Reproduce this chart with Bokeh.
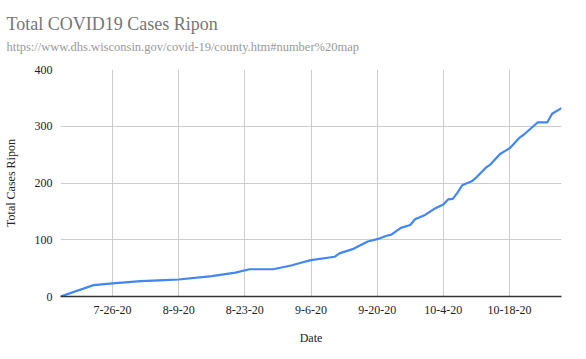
import pandas as pd
from bokeh.plotting import figure
from bokeh.models import Title, FixedTicker, Range1d
from bokeh.embed import file_html
from bokeh.resources import INLINE

dates = ["2020-07-15", "2020-07-22", "2020-07-26", "2020-08-01", "2020-08-06",
         "2020-08-09", "2020-08-16", "2020-08-21", "2020-08-24", "2020-08-29",
         "2020-09-02", "2020-09-05", "2020-09-06", "2020-09-11", "2020-09-12",
         "2020-09-15", "2020-09-18", "2020-09-20", "2020-09-22", "2020-09-23",
         "2020-09-25", "2020-09-27", "2020-09-28", "2020-09-30", "2020-10-02",
         "2020-10-04", "2020-10-05", "2020-10-06", "2020-10-07", "2020-10-08",
         "2020-10-10", "2020-10-11", "2020-10-13", "2020-10-14", "2020-10-16",
         "2020-10-18", "2020-10-20", "2020-10-21", "2020-10-24", "2020-10-26",
         "2020-10-27", "2020-10-29"]
cases = [0, 20, 23, 27, 29,
         30, 36, 42, 48, 48,
         55, 62, 64, 70, 76,
         84, 97, 101, 107, 109,
         121, 126, 136, 143, 154,
         162, 171, 172, 183, 196,
         203, 210, 227, 233, 251,
         261, 279, 285, 307, 307,
         322, 332]

tick_dates = ["2020-07-26", "2020-08-09", "2020-08-23", "2020-09-06",
              "2020-09-20", "2020-10-04", "2020-10-18"]
tick_labels = ["7-26-20", "8-9-20", "8-23-20", "9-6-20", "9-20-20", "10-4-20", "10-18-20"]
y_ticks = [0, 100, 200, 300, 400]

title_text = "Total COVID19 Cases Ripon"
subtitle_text = "https://www.dhs.wisconsin.gov/covid-19/county.htm#number%20map"
x_label = "Date"
y_label = "Total Cases Ripon"

x = pd.to_datetime(dates)
tick_ms = [float(pd.Timestamp(d).value // 10**6) for d in tick_dates]

FONT = "Liberation Serif"

p = figure(width=570, height=351, x_axis_type="datetime",
           output_backend="svg", toolbar_location=None, title=None,
           x_range=Range1d(x[0], x[-1]), y_range=Range1d(0, 400),
           min_border_left=53, min_border_right=9, min_border_bottom=55,
           min_border_top=10)
p.outline_line_color = None

p.line(x, cases, line_color="#4285F4", line_width=2.2)

gap = Title(text=" ", align="left", text_font=FONT, text_font_size="4px",
            text_color="#ffffff", standoff=16)
sub = Title(text=subtitle_text, align="left", text_font=FONT, text_font_size="12.5px",
            text_color="#999999", text_font_style="normal", offset=-54, standoff=-14)
main = Title(text=title_text, align="left", text_font=FONT, text_font_size="18px",
             text_color="#757575", text_font_style="normal", offset=-54, standoff=22)
p.add_layout(gap, "above")
p.add_layout(sub, "above")
p.add_layout(main, "above")

p.xaxis.ticker = FixedTicker(ticks=tick_ms)
p.xaxis.major_label_overrides = {t: l for t, l in zip(tick_ms, tick_labels)}
p.xgrid.ticker = FixedTicker(ticks=tick_ms)
p.yaxis.ticker = FixedTicker(ticks=y_ticks)
p.ygrid.ticker = FixedTicker(ticks=y_ticks)

for g in (p.xgrid, p.ygrid):
    g.grid_line_color = "#cccccc"
    g.grid_line_width = 1

for ax in (p.xaxis, p.yaxis):
    ax.major_tick_line_color = None
    ax.minor_tick_line_color = None
    ax.major_tick_out = 0
    ax.major_tick_in = 0
    ax.minor_tick_out = 0
    ax.minor_tick_in = 0
    ax.major_label_text_font = FONT
    ax.major_label_text_font_size = "12px"
    ax.major_label_text_color = "#222222"
    ax.axis_label_text_font = FONT
    ax.axis_label_text_font_size = "12px"
    ax.axis_label_text_color = "#222222"
    ax.axis_label_text_font_style = "normal"

p.xaxis.axis_line_color = "#333333"
p.xaxis.axis_line_width = 1.5
p.yaxis.axis_line_color = None
p.xaxis.axis_label = x_label
p.yaxis.axis_label = y_label
p.xaxis.major_label_standoff = 9
p.xaxis.axis_label_standoff = 14
p.yaxis.major_label_standoff = 8
p.yaxis.axis_label_standoff = 14

open("out.html", "w").write(file_html(p, INLINE))
